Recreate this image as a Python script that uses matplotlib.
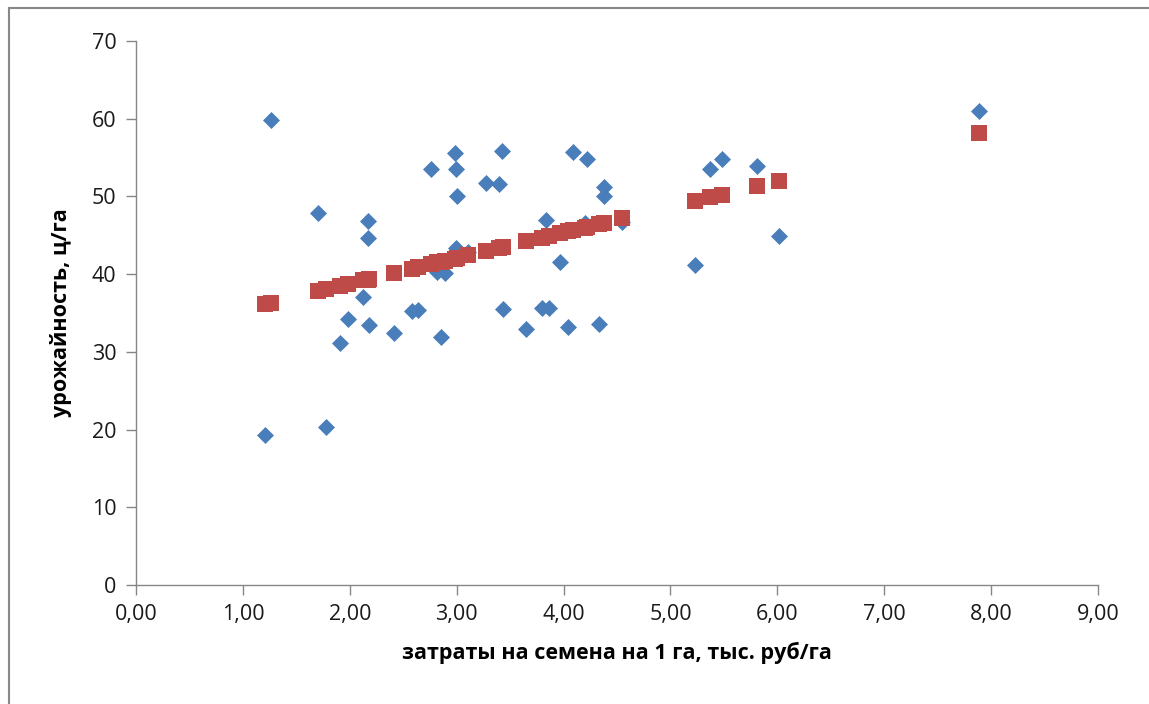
import matplotlib.pyplot as plt
from matplotlib.lines import Line2D
from matplotlib.ticker import FuncFormatter, MultipleLocator

# затраты на семена (тыс. руб/га) и урожайность (ц/га)
costs = [1.21, 1.26, 1.70, 1.78, 1.91, 1.98, 2.12, 2.17, 2.17, 2.18,
         2.41, 2.58, 2.64, 2.76, 2.82, 2.85, 2.89, 2.98, 2.99, 3.00,
         2.99, 3.11, 3.27, 3.40, 3.42, 3.43, 3.65, 3.80, 3.84, 3.86,
         3.97, 4.04, 4.09, 4.20, 4.22, 4.33, 4.38, 4.38, 4.55, 5.23,
         5.37, 5.48, 5.81, 6.02, 7.89]
yields = [19.3, 59.8, 47.9, 20.3, 31.1, 34.2, 37.1, 46.9, 44.7, 33.5,
          32.4, 35.2, 35.4, 53.5, 40.3, 31.9, 40.2, 55.6, 53.5, 50.1,
          43.4, 42.8, 51.7, 51.6, 55.8, 35.5, 32.9, 35.6, 47.0, 35.6,
          41.6, 33.2, 55.7, 46.6, 54.8, 33.6, 51.2, 50.1, 46.7, 41.2,
          53.5, 54.8, 53.9, 44.9, 61.0]

# предсказанная урожайность (красные квадраты)
pred_costs = [1.21, 1.26, 1.70, 1.78, 1.91, 1.98, 2.12, 2.17, 2.18, 2.41,
              2.58, 2.64, 2.76, 2.82, 2.85, 2.89, 2.98, 3.00, 3.11, 3.27,
              3.40, 3.43, 3.65, 3.80, 3.86, 3.97, 4.04, 4.09, 4.20, 4.22,
              4.33, 4.38, 4.55, 5.23, 5.37, 5.48, 5.81, 6.02, 7.89]
pred_yields = [36.2, 36.3, 37.8, 38.1, 38.5, 38.7, 39.2, 39.3, 39.4, 40.1,
               40.7, 40.9, 41.3, 41.5, 41.6, 41.7, 42.0, 42.1, 42.4, 43.0,
               43.4, 43.5, 44.2, 44.7, 44.9, 45.3, 45.5, 45.7, 46.0, 46.1,
               46.4, 46.6, 47.2, 49.4, 49.9, 50.2, 51.3, 52.0, 58.2]

fig = plt.figure(figsize=(11.49, 7.04), dpi=100)
ax = fig.add_axes([0.1184, 0.169, 0.8372, 0.7728])

ax.scatter(costs, yields, marker='D', s=75, color='#4A7EBB', zorder=3,
           linewidths=0)
ax.scatter(pred_costs, pred_yields, marker='s', s=125, color='#BE4B48',
           zorder=4, linewidths=0)

ax.set_xlim(0, 9)
ax.set_ylim(0, 70)
ax.xaxis.set_major_locator(MultipleLocator(1))
ax.yaxis.set_major_locator(MultipleLocator(10))
ax.xaxis.set_major_formatter(FuncFormatter(lambda v, p: f'{v:.2f}'.replace('.', ',')))

for side in ['top', 'right']:
    ax.spines[side].set_visible(False)
for side in ['left', 'bottom']:
    ax.spines[side].set_color('#868686')
    ax.spines[side].set_linewidth(1)

ax.tick_params(axis='both', colors='#868686', length=7, width=1,
               labelcolor='#1a1a1a', labelsize=15.5, pad=7)
for lab in ax.get_xticklabels() + ax.get_yticklabels():
    lab.set_family('Open Sans')

ax.set_xlabel('затраты на семена на 1 га, тыс. руб/га', fontsize=15.5,
              fontweight='bold', family='Open Sans', labelpad=12)
ax.set_ylabel('урожайность, ц/га', fontsize=15.5, fontweight='bold',
              family='Open Sans', labelpad=14)

# рамка области диаграммы
fig.add_artist(Line2D([0.0078, 1.0], [0.9886, 0.9886], color='#888888', lw=1.5))
fig.add_artist(Line2D([0.0078, 0.0078], [0.0, 0.9886], color='#888888', lw=1.5))

fig.savefig('out.png', dpi=100)
